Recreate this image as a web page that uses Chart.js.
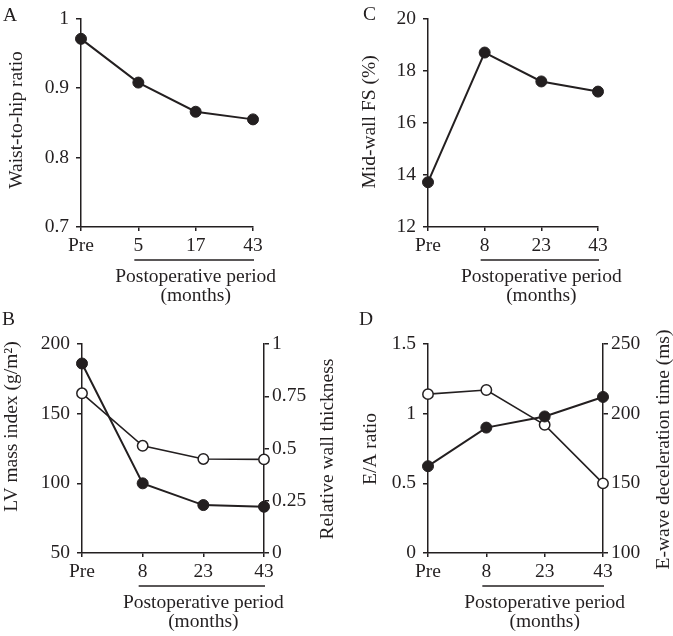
<!DOCTYPE html>
<html><head><meta charset="utf-8">
<script src="https://cdn.jsdelivr.net/npm/chart.js@4"></script>
<style>
html,body{margin:0;padding:0;background:#fff;}
#wrap{position:relative;width:673px;height:636px;overflow:hidden;background:#fff;}
canvas{position:absolute;}
</style></head><body>
<div id="wrap">
<canvas id="cA" width="336" height="318" style="left:0;top:0"></canvas>
<canvas id="cC" width="337" height="318" style="left:336px;top:0"></canvas>
<canvas id="cB" width="336" height="336" style="left:0;top:300px"></canvas>
<canvas id="cD" width="337" height="336" style="left:336px;top:300px"></canvas>
</div>
<script>
// ---- data ----
const catsA = ['Pre', '5', '17', '43'];
const waistHip = [0.971, 0.908, 0.866, 0.855];
const ticksA = [0.7, 0.8, 0.9, 1];

const catsC = ['Pre', '8', '23', '43'];
const midwallFS = [13.72, 18.70, 17.59, 17.2];
const ticksC = [12, 14, 16, 18, 20];

const catsB = ['Pre', '8', '23', '43'];
const lvMassIndex = [186, 100, 84.4, 83.2];
const relWallThickness = [0.764, 0.513, 0.45, 0.448];
const ticksBLeft = [50, 100, 150, 200];
const ticksBRight = [0, 0.25, 0.5, 0.75, 1];

const catsD = ['Pre', '8', '23', '43'];
const eaRatio = [0.623, 0.90, 0.98, 1.12];
const decelTime = [214, 217, 192, 150];
const ticksDLeft = [0, 0.5, 1, 1.5];
const ticksDRight = [100, 150, 200, 250];

const periodTitle = 'Postoperative period';
const periodUnit = '(months)';

// ---- style ----
const INK = '#231f20';
const FONT = '"Liberation Serif", "Times New Roman", serif';
const FS = 19.5;

function yAxis(position, cfg, width) {
  return {
    type: 'linear', position: position, min: cfg.min, max: cfg.max,
    grid: { display: true, drawOnChartArea: false, drawTicks: true, tickLength: 5, color: INK, lineWidth: 1.5 },
    border: { display: true, color: INK, width: 1.5 },
    ticks: { color: INK, font: { family: FONT, size: FS }, padding: position === 'left' ? 7 : 3,
             callback: v => String(v) },
    afterBuildTicks: s => { s.ticks = cfg.ticks.map(v => ({ value: v })); },
    afterFit: s => { s.width = width; }
  };
}

function makeDeco(spec) {
  return {
    id: 'deco',
    afterDraw(chart) {
      const ctx = chart.ctx, ca = chart.chartArea, xs = chart.scales.x;
      ctx.save();
      ctx.fillStyle = INK; ctx.strokeStyle = INK;
      ctx.font = FS + 'px ' + FONT;
      ctx.textBaseline = 'middle';
      ctx.textAlign = 'left';
      ctx.fillText(spec.letter, spec.letterX, spec.letterY);
      const p1 = xs.getPixelForValue(1), p3 = xs.getPixelForValue(3);
      const yl = ca.bottom + 33;
      ctx.lineWidth = 1.5;
      ctx.beginPath(); ctx.moveTo(p1 - 4, yl); ctx.lineTo(p3 + 1, yl); ctx.stroke();
      ctx.textAlign = 'center';
      const xm = (p1 + p3) / 2;
      ctx.fillText(periodTitle, xm, ca.bottom + 49.5);
      ctx.fillText(periodUnit, xm, ca.bottom + 68.5);
      for (const t of spec.titles) {
        ctx.save(); ctx.translate(t.x, t.y); ctx.rotate(-Math.PI / 2);
        ctx.fillText(t.text, 0, 0); ctx.restore();
      }
      ctx.restore();
    }
  };
}

function filledSet(data, axis) {
  return { data: data, yAxisID: axis, borderColor: INK, borderWidth: 2, tension: 0, clip: false,
           pointRadius: 5.5, pointBackgroundColor: INK, pointBorderColor: INK, pointBorderWidth: 1 };
}
function openSet(data, axis) {
  return { data: data, yAxisID: axis, borderColor: INK, borderWidth: 1.6, tension: 0, clip: false,
           pointRadius: 5.2, pointBackgroundColor: '#ffffff', pointBorderColor: INK, pointBorderWidth: 1.5 };
}

function panel(id, spec) {
  const cv = document.getElementById(id);
  const W = cv.width, H = cv.height, a = spec.area;
  const scales = {
    x: {
      type: 'category', offset: false, position: 'bottom',
      grid: { display: true, drawOnChartArea: false, drawTicks: true, tickLength: 4, color: INK, lineWidth: 1.5 },
      border: { display: true, color: INK, width: 1.5 },
      ticks: { color: INK, font: { family: FONT, size: FS }, padding: 3, autoSkip: false, maxRotation: 0, minRotation: 0 },
      afterFit: s => { s.height = H - a.b; }
    },
    y: yAxis('left', spec.left, a.l)
  };
  if (spec.right) scales.y2 = yAxis('right', spec.right, W - a.r);
  new Chart(cv, {
    type: 'line',
    data: { labels: spec.labels, datasets: spec.datasets },
    options: {
      responsive: false, animation: false, devicePixelRatio: 1,
      layout: { padding: { left: 0, top: a.t, right: spec.right ? 0 : W - a.r, bottom: 0 } },
      plugins: { legend: { display: false }, tooltip: { enabled: false } },
      scales: scales
    },
    plugins: [makeDeco(spec)]
  });
}

panel('cA', {
  area: { l: 81, t: 15, r: 253, b: 227 },
  labels: catsA,
  datasets: [filledSet(waistHip, 'y')],
  left: { min: 0.7, max: 1, ticks: ticksA },
  letter: 'A', letterX: 3, letterY: 15.5,
  titles: [{ text: 'Waist-to-hip ratio', x: 17, y: 120 }]
});

panel('cC', {
  area: { l: 92, t: 10, r: 262, b: 227 },
  labels: catsC,
  datasets: [filledSet(midwallFS, 'y')],
  left: { min: 12, max: 20, ticks: ticksC },
  letter: 'C', letterX: 27, letterY: 15,
  titles: [{ text: 'Mid-wall FS (%)', x: 34, y: 122 }]
});

panel('cB', {
  area: { l: 82, t: 44, r: 264, b: 253 },
  labels: catsB,
  datasets: [filledSet(lvMassIndex, 'y'), openSet(relWallThickness, 'y2')],
  left: { min: 50, max: 200, ticks: ticksBLeft },
  right: { min: 0, max: 1, ticks: ticksBRight },
  letter: 'B', letterX: 2, letterY: 20,
  titles: [{ text: 'LV mass index (g/m\u00B2)', x: 12, y: 126.5 },
           { text: 'Relative wall thickness', x: 328, y: 149 }]
});

panel('cD', {
  area: { l: 92, t: 44, r: 267, b: 253 },
  labels: catsD,
  datasets: [filledSet(eaRatio, 'y'), openSet(decelTime, 'y2')],
  left: { min: 0, max: 1.5, ticks: ticksDLeft },
  right: { min: 100, max: 250, ticks: ticksDRight },
  letter: 'D', letterX: 23, letterY: 20,
  titles: [{ text: 'E/A ratio', x: 35, y: 149 },
           { text: 'E-wave deceleration time (ms)', x: 328, y: 149.5 }]
});
</script>
</body></html>
